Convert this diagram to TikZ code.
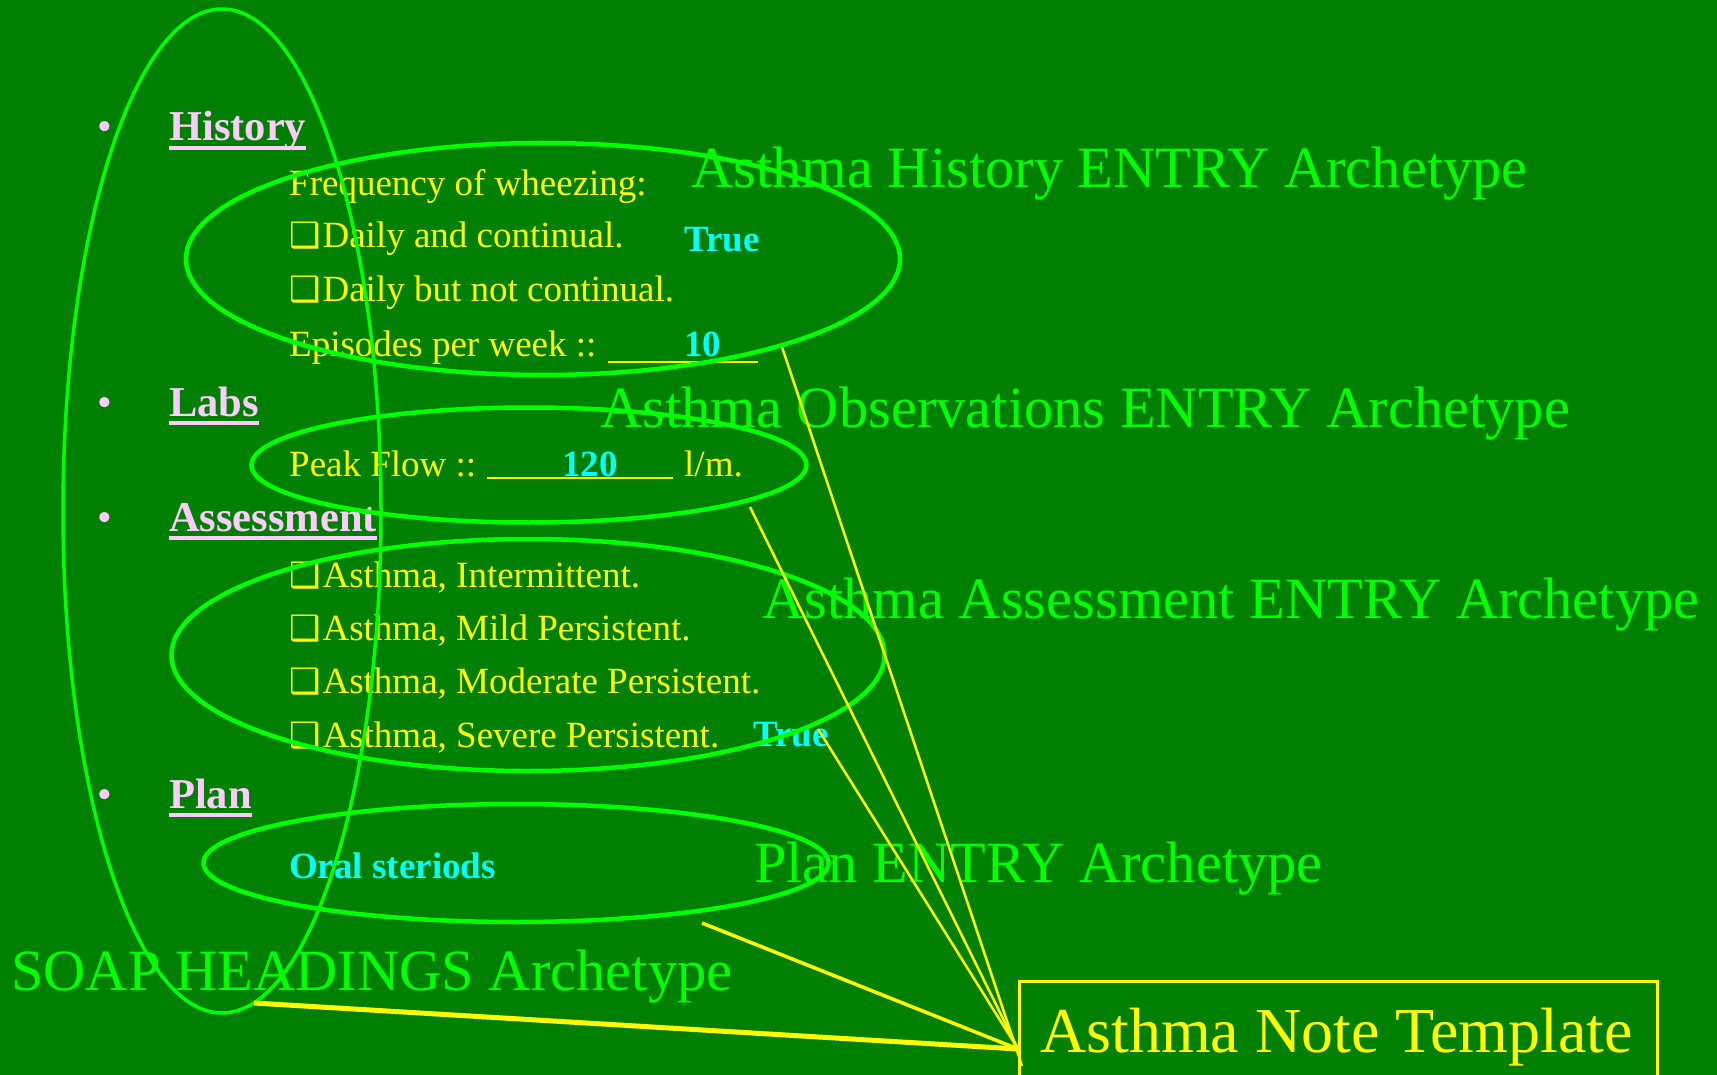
\documentclass[tikz,border=0pt]{standalone}
\usepackage{fontspec}
\setmainfont{Liberation Serif}
\newfontfamily\dingfont{DejaVu Sans}
\usetikzlibrary{shapes.geometric}
\definecolor{slidegreen}{RGB}{0,128,0}
\definecolor{lime}{RGB}{0,255,0}
\definecolor{pinkhead}{RGB}{255,204,255}
\definecolor{fieldyellow}{RGB}{255,255,0}
\definecolor{valcyan}{RGB}{0,255,255}
\newcommand\chk{{\dingfont\fontsize{35}{35}\selectfont ❑}\kern2pt\relax}

\begin{document}
\begin{tikzpicture}[x=1pt,y=-1pt,
  fieldtxt/.style={anchor=base west,inner sep=0pt,text=fieldyellow,font=\fontsize{37}{40}\selectfont},
  valtxt/.style={anchor=base west,inner sep=0pt,text=valcyan,font=\bfseries\fontsize{37}{40}\selectfont},
  headtxt/.style={anchor=base west,inner sep=0pt,text=pinkhead,font=\bfseries\fontsize{42.5}{45}\selectfont},
  dottxt/.style={anchor=base west,inner sep=0pt,text=pinkhead,font=\fontsize{42}{45}\selectfont},
  archtxt/.style={anchor=base west,inner sep=0pt,text=lime,font=\fontsize{58.5}{60}\selectfont},
  blankline/.style={draw=fieldyellow,line width=2pt},
  headrule/.style={draw=pinkhead,line width=4pt},
  zoneoval/.style={ellipse,draw=lime,line width=4.5pt,inner sep=0pt},
  linkline/.style={draw=fieldyellow,line width=2.5pt}]
\useasboundingbox (0,0) rectangle (1717,1075);
\fill[slidegreen] (0,0) rectangle (1717,1075);
\clip (0,0) rectangle (1717,1075);

% section headings with bullets
\foreach \y/\nm/\t in {141/hHist/History,416/hLabs/Labs,531/hAssess/Assessment,808/hPlan/Plan}{
  \node[dottxt] at (97,\y) {•};
  \node[headtxt] (\nm) at (169,\y) {\t};
  \draw[headrule] ([yshift=-7pt]\nm.base west) -- ([yshift=-7pt]\nm.base east);
}

% history fields
\node[fieldtxt] (freq) at (289,196) {Frequency of wheezing:};
\node[fieldtxt] (daily1) at (289,248) {\chk Daily and continual.};
\node[fieldtxt] (daily2) at (289,302) {\chk Daily but not continual.};
\node[fieldtxt] (episodes) at (289,357) {Episodes per week ::};
\draw[blankline] (608,362) -- (758,362);
\node[valtxt] (true1) at (684,252) {True};
\node[valtxt] (epv) at (684,357) {10};

% labs fields
\node[fieldtxt] (peak) at (289,476) {Peak Flow ::};
\draw[blankline] (487,478) -- (673,478);
\node[valtxt] (peakv) at (562,476) {120};
\node[fieldtxt] (units) at (684,476) {l/m.};

% assessment fields
\node[fieldtxt] (a1) at (289,587) {\chk Asthma, Intermittent.};
\node[fieldtxt] (a2) at (289,640) {\chk Asthma, Mild Persistent.};
\node[fieldtxt] (a3) at (289,693) {\chk Asthma, Moderate Persistent.};
\node[fieldtxt] (a4) at (289,747) {\chk Asthma, Severe Persistent.};
\node[valtxt] (true2) at (753,746) {True};

% plan field
\node[valtxt] (oral) at (289,878) {Oral steriods};

% archetype names
\node[archtxt] (tHist) at (691,188) {Asthma History ENTRY Archetype};
\node[archtxt] (tObs) at (600,428) {Asthma Observations ENTRY Archetype};
\node[archtxt] (tAssess) at (762,618) {Asthma Assessment ENTRY Archetype};
\node[archtxt] (tPlan) at (754,882) {Plan ENTRY Archetype};
\node[archtxt] (tSoap) at (11,990) {SOAP HEADINGS Archetype};

% archetype outlines
\node[zoneoval,line width=3.5pt,minimum width=318,minimum height=1004] (soapzone) at (222,511) {};
\node[zoneoval,minimum width=714,minimum height=232] (histzone) at (543,259) {};
\node[zoneoval,minimum width=555,minimum height=115] (labzone) at (529,465) {};
\node[zoneoval,minimum width=713,minimum height=232] (assesszone) at (528,655) {};
\node[zoneoval,minimum width=625,minimum height=118] (planzone) at (516,863) {};

% template box
\node[draw=fieldyellow,line width=2.5pt,anchor=north west,minimum width=638,minimum height=130,inner sep=0pt] (template) at (1018,980) {};
\node[anchor=base west,inner sep=0pt,text=fieldyellow,font=\fontsize{64}{67}\selectfont] (tmplname) at (1040,1052) {Asthma Note Template};

% links from each archetype into the template
\coordinate (hub) at (1018,1049);
\coordinate (hubLow) at (1022,1066);
\coordinate (fromHist) at (782,347);
\coordinate (fromLabs) at (750,507);
\coordinate (fromAssess) at (818,729);
\coordinate (fromPlan) at (702,923);
\coordinate (fromSoap) at (254,1003);
\draw[linkline] (fromHist) -- (hubLow);
\draw[linkline] (fromLabs) -- (hub);
\draw[linkline] (fromAssess) -- (hub);
\draw[linkline,line width=3.5pt] (fromPlan) -- (hub);
\draw[linkline,line width=5pt] (fromSoap) -- (hub);
\end{tikzpicture}
\end{document}
